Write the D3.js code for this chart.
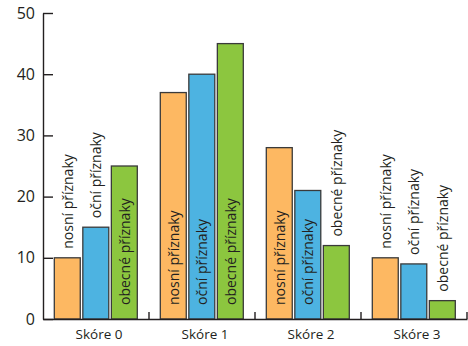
<!DOCTYPE html>
<html><head><meta charset="utf-8">
<script src="https://cdn.jsdelivr.net/npm/d3@7"></script>
<style>
html,body{margin:0;padding:0;background:#fff;}
text{font-family:"Open Sans",sans-serif;fill:#231f20;}
</style></head>
<body>
<svg id="chart" width="468" height="346"></svg>
<script>
const categories = ["Skóre 0", "Skóre 1", "Skóre 2", "Skóre 3"];
const seriesNames = ["nosní příznaky", "oční příznaky", "obecné příznaky"];
const nosni = [10, 37, 28, 10];
const ocni = [15, 40, 21, 9];
const obecne = [25, 45, 12, 3];
const yTicks = [0, 10, 20, 30, 40, 50];
const colors = ["#fdb862", "#4db3e1", "#8cc63f"];

const seriesValues = [nosni, ocni, obecne];
const svg = d3.select("#chart");
const x0 = 43, x1 = 467, yTop = 13, yBase = 319;

const x = d3.scaleBand().domain(categories).range([x0, x1]).padding(0);
const xi = d3.scaleBand().domain(seriesNames).range([11.3, 94.3]).paddingInner(0.09).paddingOuter(0);
const y = d3.scaleLinear().domain([0, 50]).range([yBase, yTop]);

const ink = "#231f20";

// bars
categories.forEach((cat, ci) => {
  const g = svg.append("g").attr("transform", `translate(${x(cat)},0)`);
  seriesNames.forEach((s, si) => {
    const v = seriesValues[si][ci];
    g.append("rect")
      .attr("x", xi(s)).attr("y", y(v))
      .attr("width", xi.bandwidth()).attr("height", yBase - y(v))
      .attr("fill", colors[si]).attr("stroke", "#3a3a3a").attr("stroke-width", 1.3);
    const cx = xi(s) + xi.bandwidth() / 2;
    const t = g.append("text").text(s)
      .attr("font-size", 14)
      .attr("text-anchor", "start");
    const len = t.node().getComputedTextLength();
    const barH = yBase - y(v);
    let startY;
    if (barH >= len + 20) startY = yBase - 14;
    else startY = y(v) - 9;
    t.attr("transform", `translate(${cx + 5.5},${startY}) rotate(-90)`);
  });
});

// y axis
const yAxis = d3.axisLeft(y).tickValues(yTicks).tickSizeInner(-10).tickSizeOuter(0).tickPadding(8);
const ya = svg.append("g").attr("transform", `translate(${x0},0)`).call(yAxis);
ya.selectAll("path,line").attr("stroke", ink).attr("stroke-width", 1.4);
ya.selectAll("text").attr("font-size", 16).attr("fill", ink).style("font-family", "'Open Sans',sans-serif");

// x axis
const xAxis = d3.axisBottom(x).tickSize(0).tickPadding(10);
const xa = svg.append("g").attr("transform", `translate(0,${yBase})`).call(xAxis);
xa.select("path").attr("stroke", ink).attr("stroke-width", 1.4);
xa.selectAll("text").attr("font-size", 13.5).attr("fill", ink).attr("dx", 3)
  .style("font-family", "'Open Sans',sans-serif");
// separators between categories
const seps = categories.map(c => x(c) + x.bandwidth());
xa.selectAll("line.sep").data(seps).enter().append("line")
  .attr("class", "sep")
  .attr("x1", d => d).attr("x2", d => d).attr("y1", 0).attr("y2", -7)
  .attr("stroke", ink).attr("stroke-width", 1.4);
</script>
</body></html>
